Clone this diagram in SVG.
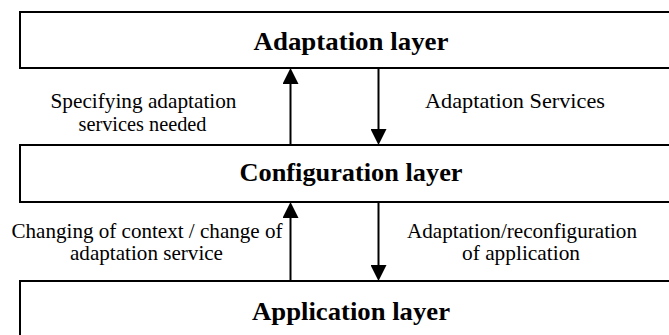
<svg xmlns="http://www.w3.org/2000/svg" width="669" height="335" viewBox="0 0 669 335">
<style>
.box{fill:#fff;stroke:#000;stroke-width:2}
.conn{stroke:#000;stroke-width:2;fill:none;marker-end:url(#ah)}
</style>
<defs>
<marker id="ah" markerUnits="userSpaceOnUse" markerWidth="16" markerHeight="16" refX="8" refY="8" orient="auto" viewBox="0 0 16 16">
<path d="M0,0 L16,8 L0,16 z" fill="#000"/>
</marker>
</defs>
<rect width="669" height="335" fill="#fff"/>
<g id="adaptation-layer">
<rect class="box" x="20" y="12" width="700" height="56"/>
<text x="351" y="50" font-family="Liberation Serif, Times New Roman, serif" font-weight="bold" font-size="26" text-anchor="middle" textLength="195" lengthAdjust="spacingAndGlyphs">Adaptation layer</text>
</g>
<g id="configuration-layer">
<rect class="box" x="20" y="145" width="700" height="57"/>
<text x="351" y="181" font-family="Liberation Serif, Times New Roman, serif" font-weight="bold" font-size="26" text-anchor="middle" textLength="223" lengthAdjust="spacingAndGlyphs">Configuration layer</text>
</g>
<g id="application-layer">
<rect class="box" x="20" y="281" width="700" height="100"/>
<text x="351" y="320" font-family="Liberation Serif, Times New Roman, serif" font-weight="bold" font-size="26" text-anchor="middle" textLength="198" lengthAdjust="spacingAndGlyphs">Application layer</text>
</g>
<g id="connectors">
<line class="conn" x1="290.5" y1="145" x2="290.5" y2="76"/>
<line class="conn" x1="378.5" y1="68" x2="378.5" y2="137"/>
<line class="conn" x1="290.5" y1="281" x2="290.5" y2="210"/>
<line class="conn" x1="378.5" y1="202" x2="378.5" y2="273"/>
</g>
<g id="labels" font-family="Liberation Serif, Times New Roman, serif" font-size="21" text-anchor="middle">
<text x="143.5" y="108" textLength="186" lengthAdjust="spacingAndGlyphs">Specifying adaptation</text>
<text x="142.5" y="131" textLength="128" lengthAdjust="spacingAndGlyphs">services needed</text>
<text x="515" y="108" textLength="180" lengthAdjust="spacingAndGlyphs">Adaptation Services</text>
<text x="147" y="238" textLength="271" lengthAdjust="spacingAndGlyphs">Changing of context / change of</text>
<text x="146.5" y="260" textLength="153" lengthAdjust="spacingAndGlyphs">adaptation service</text>
<text x="522" y="238" textLength="230" lengthAdjust="spacingAndGlyphs">Adaptation/reconfiguration</text>
<text x="521" y="260" textLength="118" lengthAdjust="spacingAndGlyphs">of application</text>
</g>
</svg>
